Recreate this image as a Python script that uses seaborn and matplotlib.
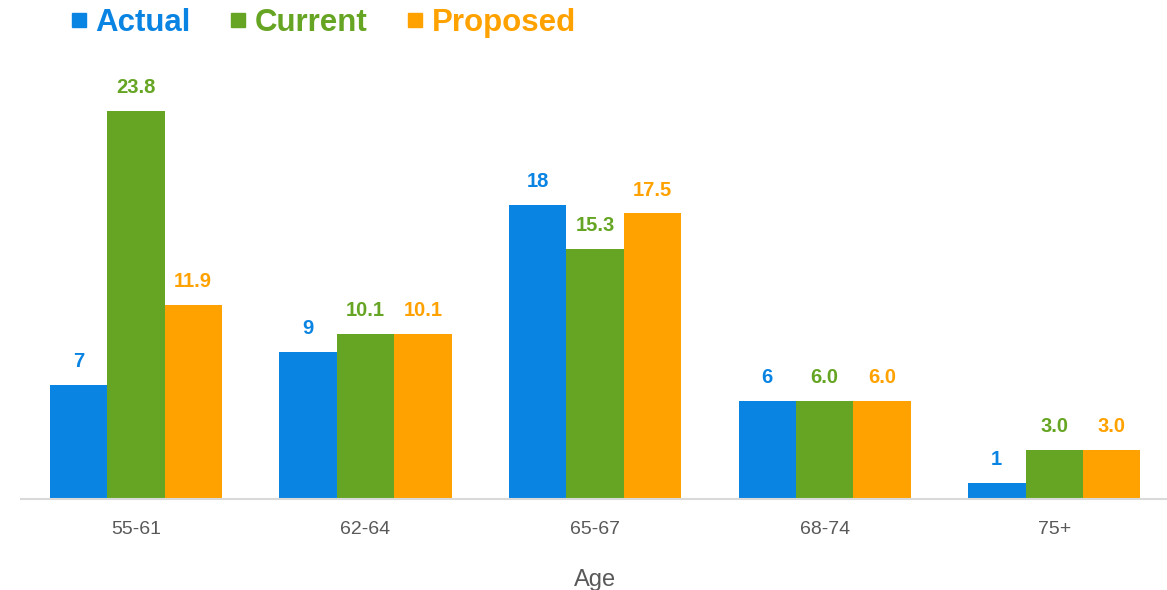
import matplotlib
matplotlib.use("Agg")
import matplotlib.pyplot as plt
from matplotlib.lines import Line2D
import seaborn as sns
import pandas as pd

ages = ["55-61", "62-64", "65-67", "68-74", "75+"]
actual = [7, 9, 18, 6, 1]
current = [23.8, 10.1, 15.3, 6.0, 3.0]
proposed = [11.9, 10.1, 17.5, 6.0, 3.0]
series = ["Actual", "Current", "Proposed"]
colors = ["#0A84E3", "#66A523", "#FFA200"]
fmts = ["{:.0f}", "{:.1f}", "{:.1f}"]

df = pd.DataFrame({
    "Age": ages * 3,
    "Value": actual + current + proposed,
    "Series": [s for s in series for _ in ages],
})

sns.set_theme(style="white")
plt.rcParams["font.family"] = ["Liberation Sans", "DejaVu Sans"]

fig = plt.figure(figsize=(11.67, 5.90), dpi=100)
ax = fig.add_axes([21 / 1167, 1 - 499 / 590, (1169 - 21) / 1167, (499 - 60) / 590])

sns.barplot(data=df, x="Age", y="Value", hue="Series", palette=colors,
            width=0.75, gap=0, saturation=1, ax=ax, legend=False,
            linewidth=0, edgecolor="none")

for cont, col, fmt in zip(ax.containers, colors, fmts):
    ax.bar_label(cont, labels=[fmt.format(b.get_height()) for b in cont],
                 padding=10, color=col, fontsize=14.5, fontweight="bold")

ax.set_xlim(-0.5, 4.5)
ax.set_ylim(0, 26.9)
ax.set_yticks([])
ax.set_ylabel("")
for s in ["top", "right", "left"]:
    ax.spines[s].set_visible(False)
ax.spines["bottom"].set_color("#D9D9D9")
ax.spines["bottom"].set_linewidth(1.5)
ax.tick_params(axis="x", length=0, pad=16, labelsize=14, labelcolor="#595959")
ax.set_xlabel("Age", fontsize=17, color="#595959", labelpad=22)

handles = [Line2D([], [], marker="s", linestyle="none", markersize=9.5,
                  markerfacecolor=c, markeredgecolor=c) for c in colors]
leg = fig.legend(handles, series, loc="upper left", bbox_to_anchor=(64 / 1167, 1 - 5 / 590),
                 ncol=3, frameon=False, prop={"size": 22.5, "weight": "bold"},
                 handletextpad=0.15, columnspacing=1.15, handlelength=0.75,
                 borderaxespad=0, borderpad=0.1)
for t, c in zip(leg.get_texts(), colors):
    t.set_color(c)

fig.savefig("out.png", dpi=100)
